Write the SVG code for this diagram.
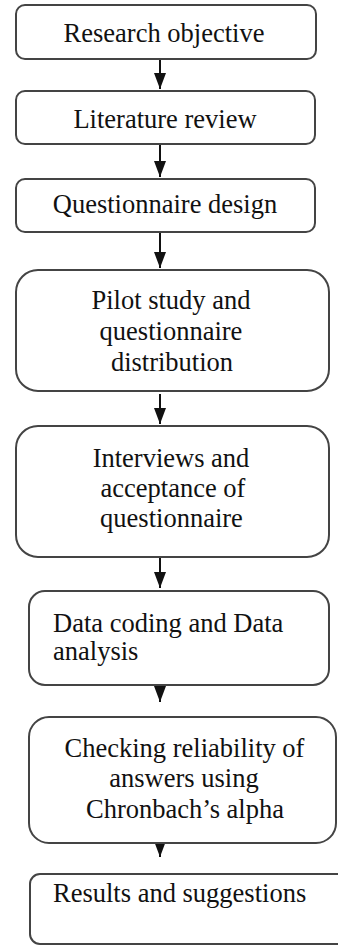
<svg xmlns="http://www.w3.org/2000/svg" width="338" height="946" viewBox="0 0 338 946">
<style>
.box{fill:#fff;stroke:#444;stroke-width:2}
.t{font-family:'Liberation Serif','DejaVu Serif',serif;font-size:26.5px;fill:#111}
.c{text-anchor:middle}
.arr{stroke:#111;stroke-width:2;fill:none;marker-end:url(#ah)}
</style>
<defs>
<marker id="ah" markerUnits="userSpaceOnUse" markerWidth="17" markerHeight="13" refX="16" refY="6" orient="auto" viewBox="0 0 17 13">
<path d="M0,0 L16,6 L0,12 z" fill="#111"/>
</marker>
</defs>
<rect width="338" height="946" fill="#fff"/>
<g id="connectors">
<line class="arr" x1="160" y1="58" x2="160" y2="89"/>
<line class="arr" x1="160" y1="144" x2="160" y2="177"/>
<line class="arr" x1="160" y1="232" x2="160" y2="268"/>
<line class="arr" x1="160" y1="394" x2="160" y2="424"/>
<line class="arr" x1="160" y1="557" x2="160" y2="588"/>
<line class="arr" x1="160" y1="670" x2="160" y2="702"/>
<line class="arr" x1="160" y1="825" x2="160" y2="857"/>
</g>
<g id="n1">
<rect class="box" x="16" y="5" width="300" height="54" rx="9"/>
<text class="t c" x="164" y="42">Research objective</text>
</g>
<g id="n2">
<rect class="box" x="16" y="91" width="299" height="53" rx="9"/>
<text class="t c" x="165" y="128">Literature review</text>
</g>
<g id="n3">
<rect class="box" x="16" y="179" width="299" height="53" rx="9"/>
<text class="t c" x="165" y="213">Questionnaire design</text>
</g>
<g id="n4">
<rect class="box" x="16" y="270" width="313" height="121" rx="22"/>
<text class="t c" x="171" y="309">Pilot study and</text>
<text class="t c" x="171" y="340">questionnaire</text>
<text class="t c" x="172" y="371">distribution</text>
</g>
<g id="n5">
<rect class="box" x="16" y="426" width="313" height="131" rx="22"/>
<text class="t c" x="171" y="467">Interviews and</text>
<text class="t c" x="173" y="497">acceptance of</text>
<text class="t c" x="171.5" y="527">questionnaire</text>
</g>
<g id="n6">
<rect class="box" x="29" y="591" width="300" height="94" rx="16"/>
<text class="t" x="53" y="632">Data coding and Data</text>
<text class="t" x="53" y="660">analysis</text>
</g>
<g id="n7">
<rect class="box" x="29" y="717" width="307" height="126" rx="20"/>
<text class="t c" x="184.5" y="757">Checking reliability of</text>
<text class="t c" x="184" y="787">answers using</text>
<text class="t c" x="185" y="818">Chronbach’s alpha</text>
</g>
<g id="n8">
<rect class="box" x="30" y="874" width="330" height="70" rx="10"/>
<text class="t" x="53" y="902">Results and suggestions</text>
</g>
</svg>
